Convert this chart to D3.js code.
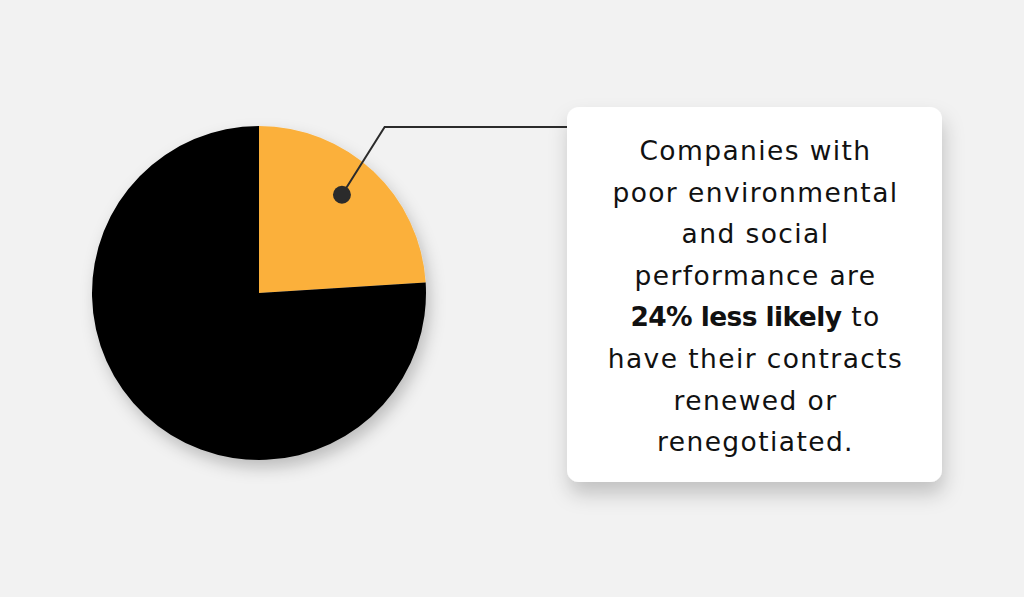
<!DOCTYPE html>
<html>
<head>
<meta charset="utf-8">
<script src="https://cdn.jsdelivr.net/npm/d3@7"></script>
<style>
  html, body { margin: 0; padding: 0; background: #f2f2f2; }
  svg { display: block; }
</style>
</head>
<body>
<div id="chart"></div>
<script>
var width = 1024;
var height = 597;

// data
var categories = ["Less likely to be renewed", "Other"];
var values = [24, 76];
var colors = ["#fbb03b", "#000000"];
var calloutLines = [
  [{t: "Companies with", b: false}],
  [{t: "poor environmental", b: false}],
  [{t: "and social", b: false}],
  [{t: "performance are", b: false}],
  [{t: "24% less likely", b: true}, {t: " to", b: false}],
  [{t: "have their contracts", b: false}],
  [{t: "renewed or", b: false}],
  [{t: "renegotiated.", b: false}]
];

var pieCenter = {x: 259, y: 293};
var radius = 167;
var box = {x: 567, y: 107, w: 375, h: 375, r: 12};

var svg = d3.select("#chart")
  .append("svg")
  .attr("width", width)
  .attr("height", height);

svg.append("rect")
  .attr("width", width)
  .attr("height", height)
  .attr("fill", "#f2f2f2");

var defs = svg.append("defs");
var f1 = defs.append("filter").attr("id", "pieShadow")
  .attr("x", "-30%").attr("y", "-30%").attr("width", "160%").attr("height", "160%");
f1.append("feDropShadow")
  .attr("dx", 4).attr("dy", 8).attr("stdDeviation", 8)
  .attr("flood-color", "#000").attr("flood-opacity", 0.22);

var f2 = defs.append("filter").attr("id", "boxShadow")
  .attr("x", "-30%").attr("y", "-30%").attr("width", "160%").attr("height", "160%");
f2.append("feDropShadow")
  .attr("dx", 2).attr("dy", 12).attr("stdDeviation", 10)
  .attr("flood-color", "#000").attr("flood-opacity", 0.2);

var pie = d3.pie().sort(null).startAngle(0).endAngle(2 * Math.PI);
var arcs = pie(values);
var arc = d3.arc().innerRadius(0).outerRadius(radius);

var g = svg.append("g")
  .attr("transform", "translate(" + pieCenter.x + "," + pieCenter.y + ")")
  .attr("filter", "url(#pieShadow)");

g.selectAll("path")
  .data(arcs)
  .enter()
  .append("path")
  .attr("d", arc)
  .attr("fill", function(d, i){ return colors[i]; });

// callout box
svg.append("rect")
  .attr("x", box.x).attr("y", box.y)
  .attr("width", box.w).attr("height", box.h)
  .attr("rx", box.r).attr("ry", box.r)
  .attr("fill", "#ffffff")
  .attr("filter", "url(#boxShadow)");

// leader line from orange slice to box
var dot = d3.pointRadial((arcs[0].startAngle + arcs[0].endAngle) / 2 * 0.93, radius * 0.77);
var dx = pieCenter.x + dot[0];
var dy = pieCenter.y + dot[1];
var elbowY = 127;
var elbowX = dx + (dy - elbowY) * 0.63;

svg.append("path")
  .attr("d", "M" + dx + "," + dy + "L" + elbowX + "," + elbowY + "L" + box.x + "," + elbowY)
  .attr("fill", "none")
  .attr("stroke", "#2b2b2b")
  .attr("stroke-width", 2);

svg.append("circle")
  .attr("cx", dx).attr("cy", dy)
  .attr("r", 9)
  .attr("fill", "#2b2b2b");

// callout text
var text = svg.append("text")
  .attr("text-anchor", "middle")
  .attr("font-family", "'DejaVu Sans', sans-serif")
  .attr("font-size", 26.5)
  .attr("fill", "#111");

calloutLines.forEach(function(line, i){
  var tl = text.append("tspan")
    .attr("x", box.x + box.w / 2 + 1)
    .attr("y", 160 + i * 41.6);
  line.forEach(function(part){
    tl.append("tspan")
      .attr("font-weight", part.b ? 700 : 400)
      .attr("letter-spacing", part.b ? -0.6 : 1.4)
      .attr("xml:space", "preserve")
      .text(part.t);
  });
});
</script>
</body>
</html>
